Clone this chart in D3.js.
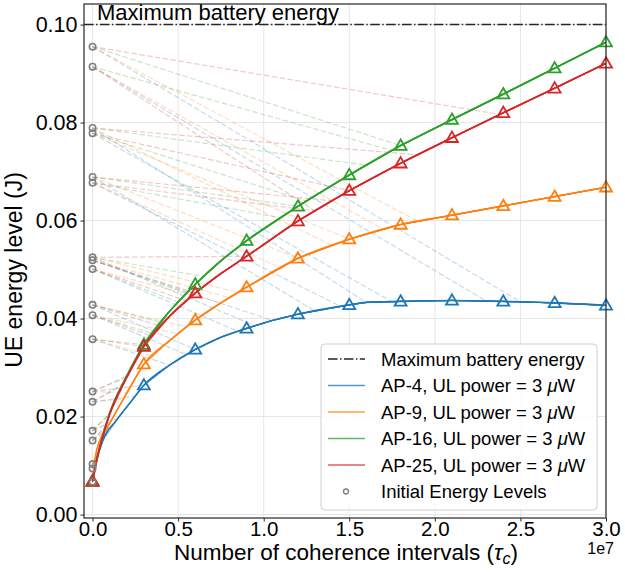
<!DOCTYPE html>
<html><head><meta charset="utf-8">
<script src="https://cdn.jsdelivr.net/npm/d3@7"></script>
<style>body{margin:0;background:#fff}svg{display:block;font-family:"Liberation Sans",Arial,sans-serif}</style>
</head><body><div id="chart"></div>
<script>
// ---- data (x in units of 1e7 coherence intervals, y in J) ----
const xTicks = [0, 0.5, 1.0, 1.5, 2.0, 2.5, 3.0];
const yTicks = [0, 0.02, 0.04, 0.06, 0.08, 0.10];
const maxBattery = 0.10;
const markerX = [0, 0.3, 0.6, 0.9, 1.2, 1.5, 1.8, 2.1, 2.4, 2.7, 3.0];

const ap4X = [0, 0.024, 0.061, 0.141, 0.219, 0.3, 0.45, 0.6, 0.75, 0.9, 1.05, 1.2, 1.5, 1.6, 1.8, 2.1, 2.4, 2.7, 3.0];
const ap4Y = [0.0068, 0.0111, 0.0152, 0.0193, 0.0228, 0.0264, 0.0305, 0.0337, 0.0362, 0.0380, 0.0396, 0.0409, 0.0428, 0.0433, 0.0435, 0.0437, 0.0435, 0.0432, 0.0427];

const ap9X = [0, 0.024, 0.102, 0.2, 0.3, 0.45, 0.6, 0.75, 0.9, 1.2, 1.5, 1.8, 2.1, 2.4, 2.7, 3.0];
const ap9Y = [0.0068, 0.0132, 0.0187, 0.0248, 0.0307, 0.0355, 0.0397, 0.0432, 0.0464, 0.0523, 0.0562, 0.0592, 0.0611, 0.0630, 0.0649, 0.0668];

const ap16X = [0, 0.03, 0.1, 0.2, 0.3, 0.45, 0.6, 0.75, 0.9, 1.2, 1.5, 1.8, 2.1, 2.4, 2.7, 3.0];
const ap16Y = [0.0068, 0.0120, 0.0207, 0.0283, 0.0347, 0.0415, 0.0470, 0.0518, 0.0559, 0.0629, 0.0693, 0.0753, 0.0806, 0.0858, 0.0911, 0.0964];

const ap25X = [0, 0.03, 0.1, 0.2, 0.3, 0.45, 0.6, 0.75, 0.9, 1.2, 1.5, 1.8, 2.1, 2.4, 2.7, 3.0];
const ap25Y = [0.0068, 0.0120, 0.0205, 0.0280, 0.0343, 0.0405, 0.0452, 0.0492, 0.0527, 0.0599, 0.0661, 0.0717, 0.0769, 0.0820, 0.0870, 0.0921];

// initial UE energy levels (gray circles at x = 0)
const initialLevels = [0.0955, 0.0914, 0.0789, 0.0778, 0.0689, 0.0677, 0.0525, 0.0519, 0.0501, 0.0428, 0.0407, 0.0358, 0.0251, 0.0230, 0.0171, 0.0151, 0.0103, 0.0094, 0.0067];
// x (1e7) at which each UE trace joins the minimum-energy curve
const ap4Merge  = [2.5, 2.3, 1.6, 1.75, 1.3, 1.45, 0.95, 1.05, 0.85, 0.6, 0.55, 0.45, 0.3, 0.25, 0.15, 0.12, 0.05, 0.04, 0];
const ap9Merge  = [1.9, 1.7, 1.4, 1.5, 1.2, 1.1, 0.85, 0.8, 0.75, 0.55, 0.5, 0.35, 0.2, 0.18, 0.1, 0.08, 0.03, 0.02, 0];
const ap16Merge = [1.8, 1.75, 1.6, 1.25, 1.2, 1.1, 0.65, 0.55, 0.5, 0.4, 0.35, 0.3, 0.2, 0.18, 0.1, 0.08, 0.03, 0.02, 0];
const ap25Merge = [2.38, 1.3, 1.9, 1.5, 1.4, 1.3, 0.9, 0.6, 0.55, 0.4, 0.35, 0.3, 0.2, 0.18, 0.1, 0.08, 0.03, 0.02, 0];

const seriesNames = ["AP-4", "AP-9", "AP-16", "AP-25"];
const seriesColors = ["#1f77b4", "#ff7f0e", "#2ca02c", "#d62728"];

const series = [
  {name: seriesNames[0], color: seriesColors[0], xs: ap4X, ys: ap4Y, merge: ap4Merge, w: 1.6},
  {name: seriesNames[1], color: seriesColors[1], xs: ap9X, ys: ap9Y, merge: ap9Merge, w: 1.6},
  {name: seriesNames[2], color: seriesColors[2], xs: ap16X, ys: ap16Y, merge: ap16Merge, w: 1.8},
  {name: seriesNames[3], color: seriesColors[3], xs: ap25X, ys: ap25Y, merge: ap25Merge, w: 1.8}
];

// ---- layout ----
const W = 625, H = 577;
const L = 84, R = 606, T = 4, B = 518;
const svg = d3.select("#chart").append("svg").attr("width", W).attr("height", H);
const x = d3.scaleLinear().domain([-0.05, 3.0]).range([L, R]);
const y = d3.scaleLinear().domain([-0.0007, 0.1042]).range([B, T]);

// grid
const g = svg.append("g");
g.selectAll(".gx").data(xTicks).enter().append("line")
  .attr("x1", d => x(d)).attr("x2", d => x(d)).attr("y1", T).attr("y2", B)
  .attr("stroke", "#e6e6e6").attr("stroke-width", 1);
g.selectAll(".gy").data(yTicks).enter().append("line")
  .attr("x1", L).attr("x2", R).attr("y1", d => y(d)).attr("y2", d => y(d))
  .attr("stroke", "#e6e6e6").attr("stroke-width", 1);

svg.append("clipPath").attr("id", "clip").append("rect")
  .attr("x", L).attr("y", T).attr("width", R - L).attr("height", B - T);
const plot = svg.append("g").attr("clip-path", "url(#clip)");

const line = d3.line().x(d => x(d[0])).y(d => y(d[1])).curve(d3.curveMonotoneX);
const straight = d3.line().x(d => x(d[0])).y(d => y(d[1]));

function interp(xs, ys, xv) {
  for (let i = 1; i < xs.length; i++) {
    if (xv <= xs[i]) {
      const t = (xv - xs[i-1]) / (xs[i] - xs[i-1]);
      return ys[i-1] + t * (ys[i] - ys[i-1]);
    }
  }
  return ys[ys.length - 1];
}

// dashed UE traces
series.forEach(s => {
  initialLevels.forEach((y0, i) => {
    const xm = s.merge[i];
    const pts = [[0, y0]];
    if (xm > 0) pts.push([xm, interp(s.xs, s.ys, xm)]);
    s.xs.forEach((xv, j) => { if (xv > xm) pts.push([xv, s.ys[j]]); });
    plot.append("path").attr("d", straight(pts)).attr("fill", "none")
      .attr("stroke", s.color).attr("stroke-opacity", 0.27).attr("stroke-width", 1.15)
      .attr("stroke-dasharray", "5.5,2.4");
  });
});

// solid min-energy curves + markers
series.forEach(s => {
  const pts = s.xs.map((xv, j) => [xv, s.ys[j]]);
  plot.append("path").attr("d", line(pts)).attr("fill", "none")
    .attr("stroke", s.color).attr("stroke-width", s.w);
});
series.forEach(s => {
  const mk = s.xs.map((xv, j) => [xv, s.ys[j]]).filter(p => markerX.some(m => Math.abs(m - p[0]) < 1e-9));
  svg.append("g").selectAll("path").data(mk).enter().append("path")
    .attr("d", d3.symbol().type(d3.symbolTriangle).size(62))
    .attr("transform", d => `translate(${x(d[0])},${y(d[1]) + 0.8})`)
    .attr("fill", "none").attr("stroke", s.color).attr("stroke-width", 1.8);
});

// initial energy levels
svg.append("g").selectAll("circle").data(initialLevels).enter().append("circle")
  .attr("cx", x(0)).attr("cy", d => y(d)).attr("r", 3.2)
  .attr("fill", "none").attr("stroke", "#7f7f7f").attr("stroke-width", 1.6);

// max battery line
plot.append("line").attr("x1", L).attr("x2", R).attr("y1", y(maxBattery)).attr("y2", y(maxBattery))
  .attr("stroke", "#262626").attr("stroke-width", 1.5).attr("stroke-dasharray", "9.6,2.4,1.5,2.4");
svg.append("text").attr("x", 97).attr("y", 20).attr("font-size", 22).attr("fill", "#000")
  .text("Maximum battery energy");

// frame
svg.append("rect").attr("x", L).attr("y", T).attr("width", R - L).attr("height", B - T)
  .attr("fill", "none").attr("stroke", "#262626").attr("stroke-width", 1.2);

// axes
const xAxis = svg.append("g").attr("transform", `translate(0,${B})`)
  .call(d3.axisBottom(x).tickValues(xTicks).tickFormat(d3.format(".1f")).tickSizeOuter(0).tickSize(3.5).tickPadding(0));
const yAxis = svg.append("g").attr("transform", `translate(${L},0)`)
  .call(d3.axisLeft(y).tickValues(yTicks).tickFormat(d3.format(".2f")).tickSizeOuter(0).tickSize(3.5).tickPadding(3));
yAxis.selectAll("text").attr("font-size", 21.5);
xAxis.selectAll("text").attr("font-size", 20.5);
[xAxis, yAxis].forEach(a => {
  a.select(".domain").remove();
  a.selectAll("text").attr("fill", "#000").attr("font-family", "Liberation Sans, Arial, sans-serif");
  a.selectAll("line").attr("stroke", "#262626");
});

// axis labels
const xl = svg.append("text").attr("x", 346).attr("y", 560).attr("text-anchor", "middle").attr("font-size", 22.5);
xl.append("tspan").text("Number of coherence intervals (");
xl.append("tspan").attr("font-style", "italic").text("τ");
xl.append("tspan").attr("font-style", "italic").attr("font-size", 16).attr("dy", 4).text("c");
xl.append("tspan").attr("dy", -4).text(")");
svg.append("text").attr("x", 614).attr("y", 554).attr("text-anchor", "end").attr("font-size", 16).text("1e7");
svg.append("text").attr("transform", "translate(22,270) rotate(-90)").attr("text-anchor", "middle")
  .attr("font-size", 23).text("UE energy level (J)");

// legend
const lg = svg.append("g");
lg.append("rect").attr("x", 321).attr("y", 344).attr("width", 276).attr("height", 166).attr("rx", 4)
  .attr("fill", "#fff").attr("fill-opacity", 0.85).attr("stroke", "#d0d0d0").attr("stroke-width", 1);
const legItems = [
  {label: "Maximum battery energy", type: "dashdot"},
  ...series.map(s => ({label: s.name + ", UL power = 3 ", type: "line", color: s.color})),
  {label: "Initial Energy Levels", type: "circle"}
];
legItems.forEach((it, i) => {
  const cy = 359 + i * 26.5;
  if (it.type === "dashdot") {
    lg.append("line").attr("x1", 328).attr("x2", 365).attr("y1", cy).attr("y2", cy)
      .attr("stroke", "#262626").attr("stroke-width", 1.5).attr("stroke-dasharray", "9.6,2.4,1.5,2.4");
  } else if (it.type === "line") {
    lg.append("line").attr("x1", 328).attr("x2", 365).attr("y1", cy).attr("y2", cy)
      .attr("stroke", it.color).attr("stroke-width", 1.5).attr("stroke-opacity", 0.75);
  } else {
    lg.append("circle").attr("cx", 346).attr("cy", cy).attr("r", 2.5)
      .attr("fill", "none").attr("stroke", "#7f7f7f").attr("stroke-width", 1.3);
  }
  const t = lg.append("text").attr("x", 381).attr("y", cy + 6.5).attr("font-size", 18.5).text(it.label);
  if (it.type === "line") {
    t.append("tspan").attr("font-style", "italic").text("μ");
    t.append("tspan").text("W");
  }
});
</script>
</body></html>
